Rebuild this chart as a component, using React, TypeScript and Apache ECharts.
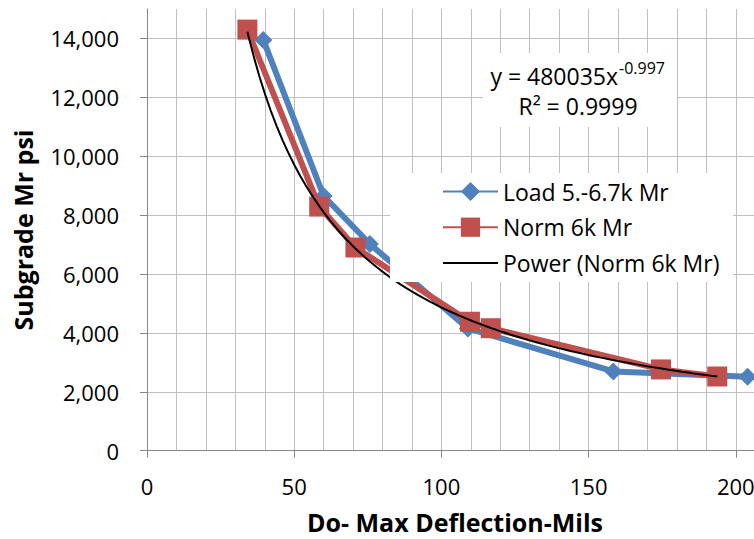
import React, { useEffect, useRef } from "react";
import * as echarts from "echarts";

// ---- data ----
const loadSeriesName = "Load 5.-6.7k Mr";
const loadX = [39.5, 60, 75.7, 109, 158.4, 204];
const loadY = [13950, 8650, 7020, 4150, 2690, 2510];

const normSeriesName = "Norm 6k Mr";
const normX = [34.1, 58.5, 70.8, 109.7, 116.8, 174.6, 193.7];
const normY = [14300, 8290, 6900, 4380, 4160, 2760, 2520];

const trendSeriesName = "Power (Norm 6k Mr)";
const trendCoef = 480035;
const trendExp = -0.997;
const trendR2 = "0.9999";

const xTickStep = 50;
const yTickStep = 2000;
const xTitle = "Do- Max Deflection-Mils";
const yTitle = "Subgrade Mr psi";

const FONT = "'Open Sans', 'Noto Sans', sans-serif";

export default function App() {
  const ref = useRef<HTMLDivElement>(null);

  useEffect(() => {
    if (!ref.current) return;
    const chart = echarts.init(ref.current, undefined, { renderer: "svg" });

    const loadData = loadX.map((x, i) => [x, loadY[i]]);
    const normData = normX.map((x, i) => [x, normY[i]]);
    const tMin = Math.min(...normX);
    const tMax = Math.max(...normX);
    const trendData: number[][] = [];
    const n = 80;
    for (let i = 0; i <= n; i++) {
      const x = tMin + ((tMax - tMin) * i) / n;
      trendData.push([x, trendCoef * Math.pow(x, trendExp)]);
    }

    const axisColor = "#868686";
    const gridColor = "#bfbfbf";

    chart.setOption({
      animation: false,
      textStyle: { fontFamily: FONT },
      grid: { left: 147, top: 9, width: 736, height: 441.7, containLabel: false },
      xAxis: {
        type: "value",
        min: 0,
        max: 250,
        interval: xTickStep,
        axisLine: { show: true, onZero: false, lineStyle: { color: axisColor, width: 1 } },
        axisTick: { show: true, inside: false, length: 7, lineStyle: { color: axisColor } },
        axisLabel: {
          margin: 24,
          fontSize: 22,
          color: "#000",
          fontFamily: FONT,
          formatter: (v: number) => (v % xTickStep === 0 && v <= 200 ? String(v) : ""),
        },
        splitLine: { show: true, lineStyle: { color: gridColor, width: 1 } },
        minorTick: { show: false, splitNumber: 5 },
        minorSplitLine: { show: true, lineStyle: { color: gridColor, width: 1 } },
      },
      yAxis: {
        type: "value",
        min: 0,
        max: 15000,
        interval: yTickStep,
        axisLine: { show: true, onZero: false, lineStyle: { color: axisColor, width: 1 } },
        axisTick: { show: true, inside: false, length: 7, lineStyle: { color: axisColor } },
        axisLabel: {
          margin: 28,
          fontSize: 22,
          color: "#000",
          fontFamily: FONT,
          showMaxLabel: false,
          formatter: (v: number) => (v % yTickStep === 0 ? v.toLocaleString("en-US") : ""),
        },
        splitLine: { show: true, showMaxLine: false, lineStyle: { color: gridColor, width: 1 } },
      },
      legend: {
        show: true,
        orient: "vertical",
        left: 442,
        top: 180,
        padding: 0,
        itemWidth: 55,
        itemHeight: 24,
        itemGap: 12.7,
        z: 12,
        textStyle: { fontSize: 23, color: "#000", fontFamily: FONT },
        data: [
          { name: loadSeriesName },
          { name: normSeriesName },
          {
            name: trendSeriesName,
            icon: "path://M0,0H55V2H0Z",
            symbolKeepAspect: true,
            itemStyle: { color: "#000" },
          },
        ],
      },
      graphic: [
        {
          type: "rect",
          z: 10,
          shape: { x: 390, y: 173, width: 343, height: 109 },
          style: { fill: "#fff" },
        },
        {
          type: "rect",
          z: 10,
          shape: { x: 483, y: 53, width: 194, height: 74 },
          style: { fill: "#fff" },
        },
        {
          type: "text",
          z: 11,
          x: 618,
          y: 76,
          style: {
            text: "y = " + trendCoef + "x",
            fontSize: 23,
            fontFamily: FONT,
            fill: "#000",
            textAlign: "right",
            textVerticalAlign: "middle",
          },
        },
        {
          type: "text",
          z: 11,
          x: 619,
          y: 68,
          style: {
            text: String(trendExp),
            fontSize: 16,
            fontFamily: FONT,
            fill: "#000",
            textAlign: "left",
            textVerticalAlign: "middle",
          },
        },
        {
          type: "text",
          z: 11,
          x: 578,
          y: 106,
          style: {
            text: "R² = " + trendR2,
            fontSize: 23,
            fontFamily: FONT,
            fill: "#000",
            textAlign: "center",
            textVerticalAlign: "middle",
          },
        },
        {
          type: "text",
          z: 11,
          x: 455,
          y: 522,
          style: {
            text: xTitle,
            fontSize: 25,
            fontWeight: "bold",
            fontFamily: FONT,
            fill: "#000",
            textAlign: "center",
            textVerticalAlign: "middle",
          },
        },
        {
          type: "text",
          z: 11,
          x: 23,
          y: 230,
          rotation: Math.PI / 2,
          style: {
            text: yTitle,
            fontSize: 25,
            fontWeight: "bold",
            fontFamily: FONT,
            fill: "#000",
            textAlign: "center",
            textVerticalAlign: "middle",
          },
        },
      ],
      series: [
        {
          name: loadSeriesName,
          type: "line",
          data: loadData,
          z: 2,
          symbol: "diamond",
          symbolSize: 18,
          lineStyle: { color: "#4f81bd", width: 6 },
          itemStyle: { color: "#4f81bd" },
        },
        {
          name: normSeriesName,
          type: "line",
          data: normData,
          z: 3,
          symbol: "rect",
          symbolSize: 20,
          lineStyle: { color: "#c0504d", width: 6 },
          itemStyle: { color: "#c0504d" },
        },
        {
          name: trendSeriesName,
          type: "line",
          data: trendData,
          z: 4,
          symbol: "none",
          showSymbol: false,
          smooth: false,
          lineStyle: { color: "#000", width: 2 },
          itemStyle: { color: "#000" },
        },
      ],
    });

    return () => chart.dispose();
  }, []);

  return (
    <div
      style={{
        position: "fixed",
        left: 0,
        top: 0,
        width: 754,
        height: 539,
        overflow: "hidden",
        background: "#fff",
      }}
    >
      <div ref={ref} style={{ width: 900, height: 539 }} />
    </div>
  );
}
